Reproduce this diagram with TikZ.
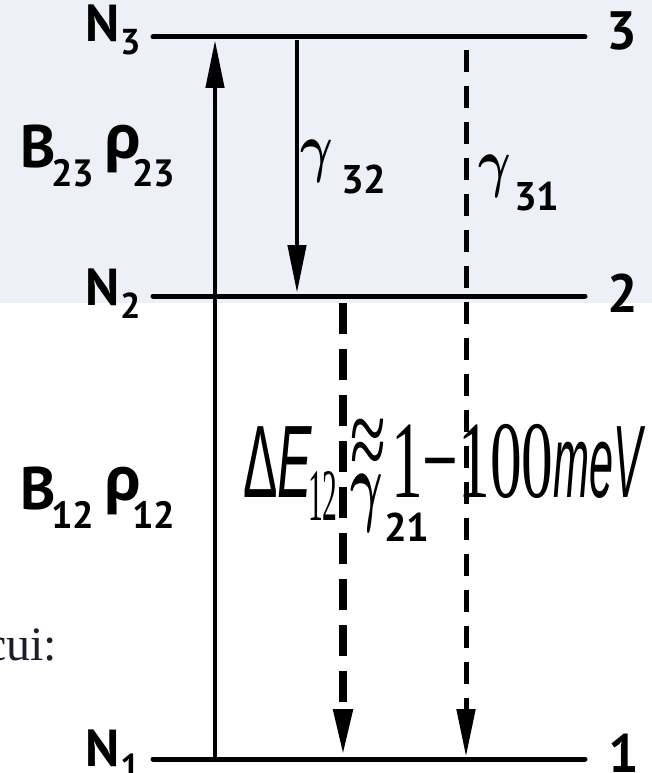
\documentclass[tikz,border=0pt]{standalone}
\usepackage{bm}
\usepackage{fontspec}
\setmainfont{PT Sans}
\newfontfamily\grk{Open Sans}
\newfontfamily\sansit{Liberation Sans}
\newfontfamily\serifd{Liberation Serif}
\usetikzlibrary{arrows.meta}
\definecolor{bgblue}{HTML}{EDF1F7}
\definecolor{inkdark}{HTML}{1C1C2A}
\newcommand\fsz[1]{\fontsize{#1}{#1}\selectfont}
\newcommand\gam[1]{\scalebox{5}[#1]{$\bm{\gamma}$}}
\begin{document}
\begin{tikzpicture}[x=1pt,y=-1pt,
  every node/.style={inner sep=0pt, outer sep=0pt, anchor=base west},
  level/.style={line width=5pt, line cap=round},
  trans/.style={line width=4.5pt, -{Triangle[length=48pt,width=18pt]}},
  decay/.style={line width=5pt, dash pattern=on 22pt off 14pt, -{Triangle[length=48pt,width=18pt]}},
  decaybig/.style={line width=8pt, dash pattern=on 31pt off 15pt, -{Triangle[length=48pt,width=18pt]}},
  nlab/.style={font=\fsz{52}\bfseries},
  nsub/.style={font=\fsz{36}\bfseries},
  numlab/.style={font=\fsz{54}\bfseries},
  blab/.style={font=\fsz{60}\bfseries},
  bsub/.style={font=\fsz{38}\bfseries},
  rholab/.style={font=\grk\fsz{60}\bfseries},
  glab/.style={font=\normalsize},
  gsub/.style={font=\fsz{40}\bfseries}]
\useasboundingbox (0,0) rectangle (652,773);
\fill[bgblue] (0,0) rectangle (652,303);
% side text
\node[anchor=base east, font=\serifd\fsz{48}, text=inkdark] (cui) at (57,660) {cui:};
% levels
\coordinate (L3a) at (153,37); \coordinate (L3b) at (585,37);
\coordinate (L2a) at (153,296); \coordinate (L2b) at (585,296);
\coordinate (L1a) at (153,759); \coordinate (L1b) at (585,759);
\draw[level] (L3a) -- (L3b);
\draw[level] (L2a) -- (L2b);
\draw[level] (L1a) -- (L1b);
% transitions
\coordinate (U1) at (215,759); \coordinate (U3) at (215,40);
\coordinate (D3) at (297,40); \coordinate (D2) at (297,293);
\coordinate (E3) at (466,50); \coordinate (E1) at (466,757);
\coordinate (F2) at (343,303); \coordinate (F1) at (343,757);
\draw[trans] (U1) -- (U3);
\draw[trans] (D3) -- (D2);
\draw[decay] (E3) -- (E1);
\draw[decaybig] (F2) -- (F1);
% level labels
\node[nlab] (n3) at (85,42) {N};
\node[nsub] (n3s) at (120,55) {3};
\node[nlab] (n2) at (85,305) {N};
\node[nsub] (n2s) at (120,318) {2};
\node[nlab] (n1) at (85,766) {N};
\node[nsub] (n1s) at (120,779) {1};
\node[numlab] (k3) at (606,50) {3};
\node[numlab] (k2) at (607,312) {2};
\node[numlab] (k1) at (608,772) {1};
% rate labels
\node[blab] (b23) at (20,167) {B};
\node[bsub] (b23s) at (51,186) {23};
\node[rholab] (r23) at (104,158) {ρ};
\node[bsub] (r23s) at (132,186) {23};
\node[blab] (b12) at (20,509) {B};
\node[bsub] (b12s) at (51,528) {12};
\node[rholab] (r12) at (104,500) {ρ};
\node[bsub] (r12s) at (132,528) {12};
\node[glab] (g32) at (300,169) {\gam{6.6}};
\node[gsub] (g32s) at (341,193) {32};
\node[glab] (g31) at (478,184) {\gam{6.6}};
\node[gsub] (g31s) at (514,210) {31};
\node[glab] (g21) at (350,514) {\gam{9}};
\node[gsub] (g21s) at (384,541) {21};
% energy gap
\node (dE) at (243,497) {\scalebox{0.5}[1]{\sansit\fsz{103}Δ\itshape E}};
\node (dEs) at (308,520) {\scalebox{0.4}[1]{\serifd\fsz{74}12}};
\node (apx) at (350,478) {\scalebox{0.9}[1.6]{\serifd\fsz{72}≈}};
\node (rng) at (391,497) {\scalebox{0.576}[1]{\serifd\fsz{110}1−100}};
\node (unit) at (553,497) {\scalebox{0.42}[1]{\sansit\itshape\fsz{103}meV}};
\end{tikzpicture}
\end{document}
